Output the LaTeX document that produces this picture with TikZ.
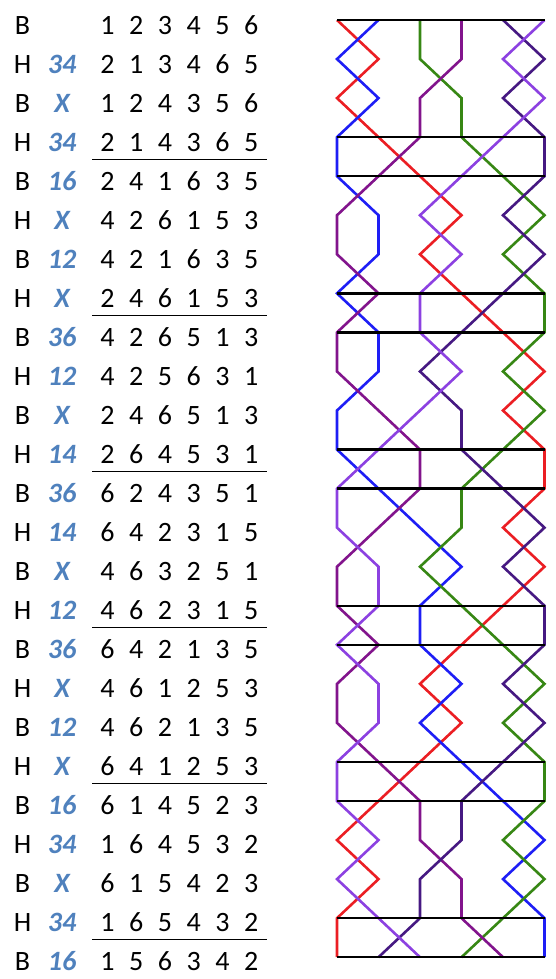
\documentclass[tikz,border=0pt]{standalone}
\usepackage{fontspec}
\setmainfont{Carlito}
\definecolor{pnblue}{RGB}{79,129,189}
\definecolor{bellA}{RGB}{235,30,35}
\definecolor{bellB}{RGB}{30,30,245}
\definecolor{bellC}{RGB}{55,135,20}
\definecolor{bellD}{RGB}{130,20,140}
\definecolor{bellE}{RGB}{70,25,130}
\definecolor{bellF}{RGB}{140,65,225}
\begin{document}
\begin{tikzpicture}[x=1pt,y=-1pt,
  txt/.style={inner sep=0pt,anchor=base,font=\fontsize{28}{31}\selectfont},
  pn/.style={inner sep=0pt,anchor=base,font=\fontsize{28}{31}\selectfont\bfseries\itshape,text=pnblue},
  rowrule/.style={line width=0.8pt,black},
  gridline/.style={line width=2.4pt,black},
  bell/.style={line width=2.6pt}]
\useasboundingbox (0,0) rectangle (555,979);
% table
\foreach \j/\lab/\pln/\dA/\dB/\dC/\dD/\dE/\dF in {
  1/B/{}/1/2/3/4/5/6,
  2/H/34/2/1/3/4/6/5,
  3/B/X/1/2/4/3/5/6,
  4/H/34/2/1/4/3/6/5,
  5/B/16/2/4/1/6/3/5,
  6/H/X/4/2/6/1/5/3,
  7/B/12/4/2/1/6/3/5,
  8/H/X/2/4/6/1/5/3,
  9/B/36/4/2/6/5/1/3,
  10/H/12/4/2/5/6/3/1,
  11/B/X/2/4/6/5/1/3,
  12/H/14/2/6/4/5/3/1,
  13/B/36/6/2/4/3/5/1,
  14/H/14/6/4/2/3/1/5,
  15/B/X/4/6/3/2/5/1,
  16/H/12/4/6/2/3/1/5,
  17/B/36/6/4/2/1/3/5,
  18/H/X/4/6/1/2/5/3,
  19/B/12/4/6/2/1/3/5,
  20/H/X/6/4/1/2/5/3,
  21/B/16/6/1/4/5/2/3,
  22/H/34/1/6/4/5/3/2,
  23/B/X/6/1/5/4/2/3,
  24/H/34/1/6/5/4/3/2,
  25/B/16/1/5/6/3/4/2}{
  \node[txt] (bh\j) at (22.5,{34.5+39*(\j-1)}) {\lab};
  \node[pn] (pn\j) at (62,{34.5+39*(\j-1)}) {\pln};
  \foreach \k/\v in {1/\dA,2/\dB,3/\dC,4/\dD,5/\dE,6/\dF}
    \node[txt] (d\j-\k) at ({107.5+28.75*(\k-1)},{34.5+39*(\j-1)}) {\v};
}
\foreach \j in {4,8,12,16,20,24}
  \draw[rowrule] (92,{42+39*(\j-1)}) -- (267,{42+39*(\j-1)});
% grid coordinates
\foreach \i in {1,...,6}
  \foreach \j in {1,...,25}
    \coordinate (g\i-\j) at ({337+41.5*(\i-1)},{20+39.05*(\j-1)});
% bell lines
\draw[bell,bellA] (g1-1) \foreach \p [count=\j from 2] in {2,1,2,3,4,3,4,5,6,5,6,6,5,6,5,4,3,4,3,2,1,2,1,1} {--(g\p-\j)};
\draw[bell,bellB] (g2-1) \foreach \p [count=\j from 2] in {1,2,1,1,2,2,1,2,2,1,1,2,3,4,3,3,4,3,4,5,6,5,6,6} {--(g\p-\j)};
\draw[bell,bellC] (g3-1) \foreach \p [count=\j from 2] in {3,4,4,5,6,5,6,6,5,6,5,4,4,3,4,5,6,5,6,6,5,6,5,4} {--(g\p-\j)};
\draw[bell,bellD] (g4-1) \foreach \p [count=\j from 2] in {4,3,3,2,1,1,2,1,1,2,3,3,2,1,1,2,1,1,2,3,3,4,4,5} {--(g\p-\j)};
\draw[bell,bellE] (g5-1) \foreach \p [count=\j from 2] in {6,5,6,6,5,6,5,4,3,4,4,5,6,5,6,6,5,6,5,4,4,3,3,2} {--(g\p-\j)};
\draw[bell,bellF] (g6-1) \foreach \p [count=\j from 2] in {5,6,5,4,3,4,3,3,4,3,2,1,1,2,2,1,2,2,1,1,2,1,2,3} {--(g\p-\j)};
% black lines
\foreach \j in {1,4,5,8,9,12,13,16,17,20,21,24,25}
  \draw[gridline] (g1-\j) -- (g6-\j);
\end{tikzpicture}
\end{document}
